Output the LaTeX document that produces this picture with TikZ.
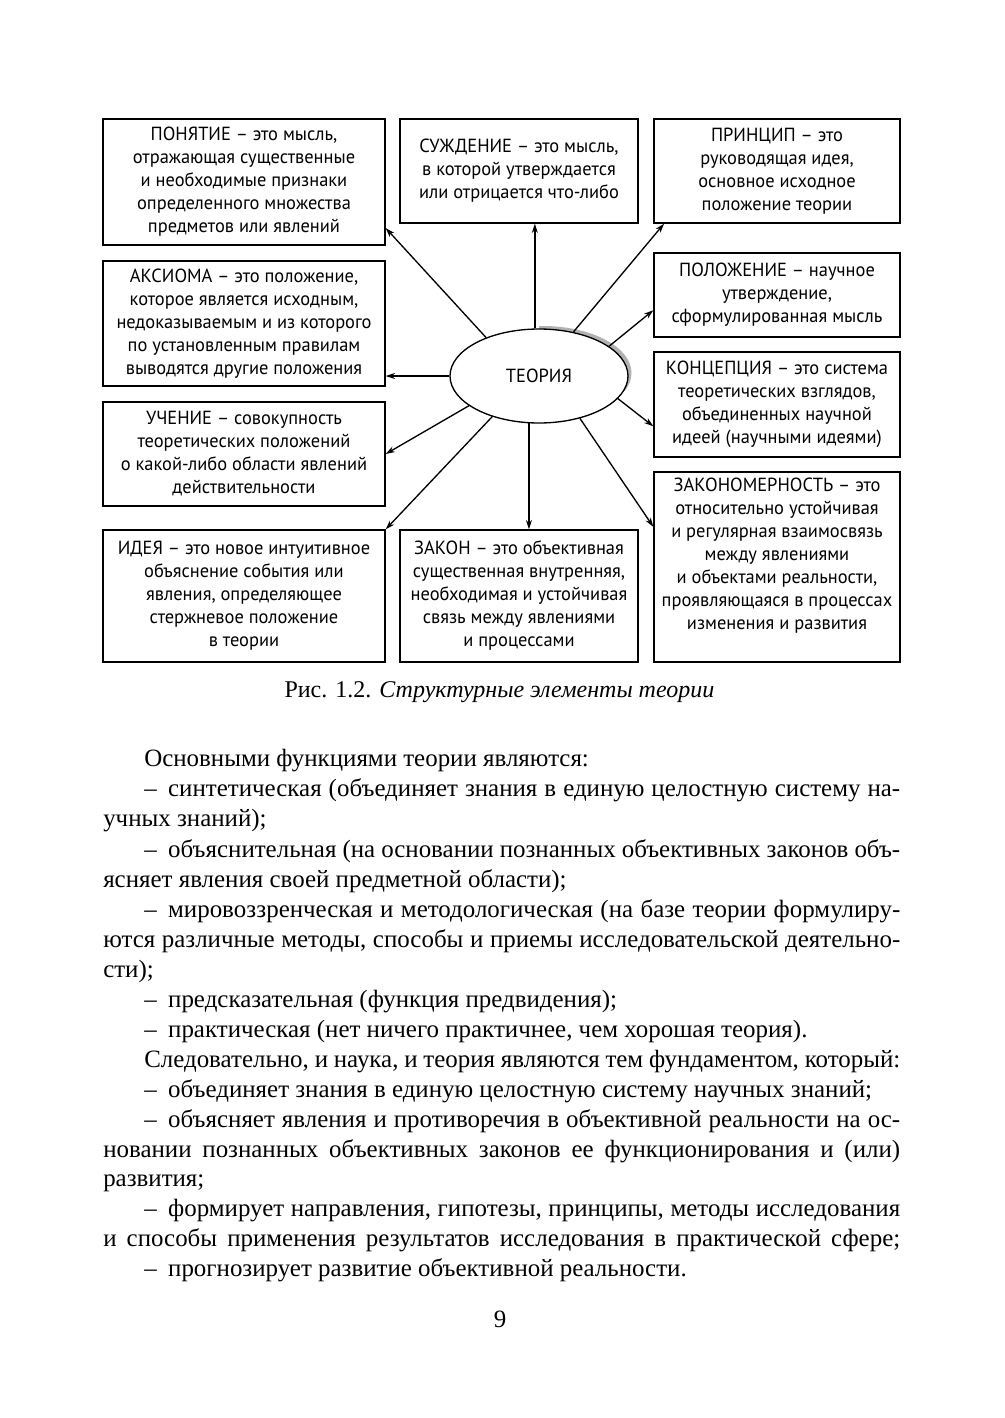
\documentclass[tikz,border=0pt]{standalone}
\usepackage{fontspec}
\setmainfont{Liberation Serif}
\newfontfamily\boxfont[FakeStretch=0.97]{PT Sans}
\usetikzlibrary{arrows.meta,calc,shapes.geometric}
\newcommand\fullln[1]{\hbox to 597.75pt{#1}}
\newcommand\indln[1]{\hbox to 567pt{#1}}
\newcommand\dsh{–\hskip 8.6pt\relax}
\tikzset{
  box/.style={draw, line width=1pt, inner sep=0pt, align=center,
    font=\boxfont\fontsize{14.25}{17.25}\selectfont},
  boxtext/.style={inner sep=0pt, align=center,
    font=\boxfont\fontsize{14.25}{17.25}\selectfont},
  arr/.style={line width=1pt, -{Stealth[length=7pt,width=4.5pt]}},
  bodyln/.style={anchor=base west, inner sep=0pt, font=\fontsize{18.7}{22.5}\selectfont},
}
\begin{document}
\begin{tikzpicture}[x=0.75pt,y=-0.75pt]
\fill[white] (0,0) rectangle (1004,1418);
\useasboundingbox (0,0) rectangle (1004,1418);

% boxes
\node[box, minimum width=211.5pt, minimum height=94.5pt] (ponyatie) at (244,182)
  {ПОНЯТИЕ – это мысль,\\ отражающая существенные\\ и необходимые признаки\\ определенного множества\\ предметов или явлений};
\node[box, minimum width=178.5pt, minimum height=78pt] (suzhdenie) at (519,171)
  {СУЖДЕНИЕ – это мысль,\\ в которой утверждается\\ или отрицается что-либо};
\node[box, minimum width=184.5pt, minimum height=78pt] (princip) at (777,171)
  {ПРИНЦИП – это\\ руководящая идея,\\ основное исходное\\ положение теории};
\node[box, minimum width=211.5pt, minimum height=93.75pt] (aksioma) at (244,323.5)
  {АКСИОМА – это положение,\\ которое является исходным,\\ недоказываемым и из которого\\ по установленным правилам\\ выводятся другие положения};
\node[box, minimum width=184.5pt, minimum height=63pt] (polozhenie) at (777,295)
  {ПОЛОЖЕНИЕ – научное\\ утверждение,\\ сформулированная мысль};
\node[box, minimum width=184.5pt, minimum height=78.75pt] (koncepciya) at (777,404.5)
  {КОНЦЕПЦИЯ – это система\\ теоретических взглядов,\\ объединенных научной\\ идеей (научными идеями)};
\node[box, minimum width=211.5pt, minimum height=78pt] (uchenie) at (244,454)
  {УЧЕНИЕ – совокупность\\ теоретических положений\\ о какой-либо области явлений\\ действительности};
\node[box, minimum width=211.5pt, minimum height=99pt] (ideya) at (244,596)
  {ИДЕЯ – это новое интуитивное\\ объяснение события или\\ явления, определяющее\\ стержневое положение\\ в теории};
\node[box, minimum width=178.5pt, minimum height=99pt] (zakon) at (519,596)
  {ЗАКОН – это объективная\\ существенная внутренняя,\\ необходимая и устойчивая\\ связь между явлениями\\ и процессами};
\node[box, minimum width=184.5pt, minimum height=142.5pt] (zakonomernost) at (777,567) {};
\node[boxtext] (zkntext) at (777,556)
  {ЗАКОНОМЕРНОСТЬ – это\\ относительно устойчивая\\ и регулярная взаимосвязь\\ между явлениями\\ и объектами реальности,\\ проявляющаяся в процессах\\ изменения и развития};

% centre ellipse with its shadow on the upper right
\coordinate (tc) at (539,376);
\begin{scope}
  \clip (539,300) rectangle (640,390);
  \fill[gray!60] ($(tc)+(3.5,-3)$) ellipse [x radius=89, y radius=47];
\end{scope}
\node[ellipse, draw, line width=1pt, fill=white, minimum width=133.5pt, minimum height=70.5pt,
  inner sep=0pt, font=\boxfont\fontsize{14.25}{17.25}\selectfont]
  (teoriya) at (tc) {ТЕОРИЯ};

% arrows
\draw[arr] (teoriya.144) -- (ponyatie.-18);
\draw[arr] (teoriya.95) -- (teoriya.95 |- suzhdenie.south);
\draw[arr] (teoriya.52) -- (princip.-155);
\draw[arr] (teoriya.23) -- (polozhenie.-173);
\draw[arr] (teoriya.west) -- (teoriya.west -| aksioma.east);
\draw[arr] (teoriya.-16) -- (koncepciya.-170);
\draw[arr] (teoriya.-157) -- (uchenie.east);
\draw[arr] (teoriya.-139) -- (ideya.north east);
\draw[arr] (teoriya.-102) -- (teoriya.-102 |- zakon.north);
\draw[arr] (teoriya.-46) -- (zakonomernost.162);

% caption
\node[anchor=base, inner sep=0pt, font=\fontsize{18}{22.5}\selectfont] (caption) at (499.5,697)
  {Рис. 1.2. \textit{Структурные элементы теории}};

% body text
\node[bodyln] (l1) at (144,766) {Основными функциями теории являются:};
\node[bodyln] (l2) at (144,796) {\indln{\dsh синтетическая (объединяет знания в единую целостную систему на-}};
\node[bodyln] (l3) at (103,826) {учных знаний);};
\node[bodyln] (l4) at (144,857) {\indln{\dsh объяснительная (на основании познанных объективных законов объ-}};
\node[bodyln] (l5) at (103,887) {ясняет явления своей предметной области);};
\node[bodyln] (l6) at (144,917) {\indln{\dsh мировоззренческая и методологическая (на базе теории формулиру-}};
\node[bodyln] (l7) at (103,947) {\fullln{ются различные методы, способы и приемы исследовательской деятельно-}};
\node[bodyln] (l8) at (103,977) {сти);};
\node[bodyln] (l9) at (144,1007) {\dsh предсказательная (функция предвидения);};
\node[bodyln] (l10) at (144,1037) {\dsh практическая (нет ничего практичнее, чем хорошая теория).};
\node[bodyln] (l11) at (144,1067) {\indln{Следовательно, и наука, и теория являются тем фундаментом, который:}};
\node[bodyln] (l12) at (144,1097) {\dsh объединяет знания в единую целостную систему научных знаний;};
\node[bodyln] (l13) at (144,1127) {\indln{\dsh объясняет явления и противоречия в объективной реальности на ос-}};
\node[bodyln] (l14) at (103,1157) {\fullln{новании познанных объективных законов ее функционирования и (или)}};
\node[bodyln] (l15) at (103,1186) {развития;};
\node[bodyln] (l16) at (144,1216) {\indln{\dsh формирует направления, гипотезы, принципы, методы исследования}};
\node[bodyln] (l17) at (103,1246) {\fullln{и способы применения результатов исследования в практической сфере;}};
\node[bodyln] (l18) at (144,1276) {\dsh прогнозирует развитие объективной реальности.};
\node[anchor=base, inner sep=0pt, font=\fontsize{18.7}{22.5}\selectfont] (pagenum) at (500,1327) {9};
\end{tikzpicture}
\end{document}
